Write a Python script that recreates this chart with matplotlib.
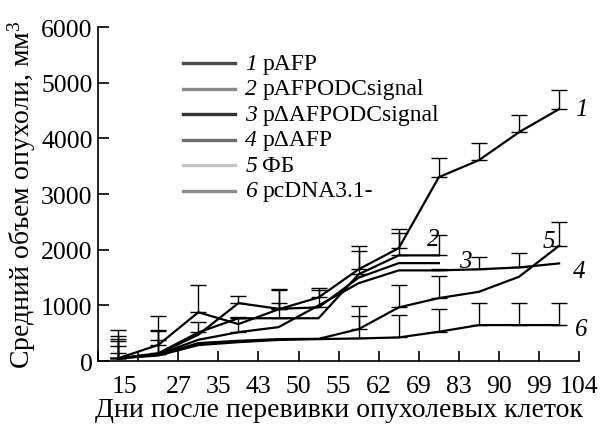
import numpy as np
import matplotlib
matplotlib.use('Agg')
import matplotlib.pyplot as plt

plt.rcParams['font.family'] = ['Liberation Serif', 'DejaVu Serif']
plt.rcParams['mathtext.fontset'] = 'custom'
plt.rcParams['mathtext.rm'] = 'Liberation Serif'
plt.rcParams['mathtext.it'] = 'Liberation Serif:italic'

# days after tumour transplantation (category labels)
days = ['15', '27', '35', '43', '50', '55', '62', '69', '83', '90', '99', '104']
day_pos = [0.67, 2, 3, 4, 5, 6, 7, 8, 9, 10, 11, 12]

nan = np.nan
names = ['pAFP', 'pAFPODCsignal', 'p\u0394AFPODCsignal', 'p\u0394AFP', '\u0424\u0411', 'pcDNA3.1-']
legend_colors = ['#4a4a4a', '#8a8a8a', '#333333', '#6e6e6e', '#c4c4c4', '#8c8c8c']

# mean tumour volume, mm^3
s1 = [50, 290, 877, 665, 930, 1144, 1650, 2030, 3305, 3610, 4113, 4527]
s2 = [50, 140, 515, 770, 770, 770, 1560, 1900, 1900, nan, nan, nan]
s3 = [50, 130, 474, 1042, 940, 965, 1500, 1760, 1760, nan, nan, nan]
s4 = [50, 120, 383, 520, 610, 1000, 1400, 1630, 1630, 1650, 1683, 1755]
s5 = [50, 110, 323, 365, 395, 400, 575, 965, 1132, 1245, 1515, 2072]
s6 = [50, 100, 288, 340, 380, 395, 407, 425, 527, 647, 647, 647]

# upper error (mm^3)
e1 = [513, 526, 497, nan, 360, 161, 422, 344, 342, 306, 307, 343]
e2 = [400, 423, 193, 15, 280, nan, 410, 402, 370, nan, nan, nan]
e3 = [345, 403, nan, 134, 330, 311, nan, nan, nan, nan, nan, nan]
e4 = [304, 263, nan, 255, nan, nan, nan, nan, 25, 224, 257, nan]
e5 = [226, nan, nan, nan, nan, nan, 407, 400, 403, nan, nan, 419]
e6 = [94, nan, nan, nan, nan, nan, 407, 408, 407, 389, 389, 389]

series = [s1, s2, s3, s4, s5, s6]
errors = [e1, e2, e3, e4, e5, e6]

# curve numbers next to the lines
tag_x = [11.9, 8.2, 9.0, 11.85, 11.1, 11.9]
tag_y = [4530, 2195, 1800, 1620, 2160, 575]

x = np.arange(12) + 0.5

fig = plt.figure(figsize=(6.02, 4.27), dpi=100)
ax = fig.add_axes([0.163, 0.152, 0.799, 0.782])

for s, e in zip(series, errors):
    s = np.array(s, dtype=float)
    e = np.array(e, dtype=float)
    ax.plot(x, s, color='black', lw=1.6, zorder=3)
    m = ~np.isnan(e) & ~np.isnan(s)
    ax.errorbar(x[m], s[m], yerr=[np.zeros(m.sum()), e[m]], fmt='none',
                ecolor='black', elinewidth=1.0, capsize=6, capthick=1.0, zorder=2)

for i in range(6):
    ax.text(tag_x[i], tag_y[i], str(i + 1), fontsize=18, style='italic',
            ha='left', va='center')

# legend drawn by hand: grey swatch, italic number, name
for i, (n, c) in enumerate(zip(names, legend_colors)):
    yy = 0.892 - i * 0.0765
    ax.plot([0.177, 0.285], [yy, yy], color=c, lw=2.4, transform=ax.transAxes)
    ax.text(0.306, yy, str(i + 1), style='italic', fontsize=17,
            ha='left', va='center', transform=ax.transAxes)
    ax.text(0.341, yy, n, fontsize=17, ha='left', va='center',
            transform=ax.transAxes)

ax.set_xlim(0, 12)
ax.set_ylim(0, 6000)
ax.set_yticks(np.arange(0, 6001, 1000))
ax.xaxis.remove_overlapping_locs = False
ax.set_xticks(np.arange(13))
ax.set_xticklabels([])
ax.set_xticks(day_pos, minor=True)
ax.set_xticklabels(days, minor=True)
ax.tick_params(axis='x', which='major', direction='in', length=7, width=1.2)
ax.tick_params(axis='x', which='minor', length=0, pad=10, labelsize=18.5)
ax.tick_params(axis='y', direction='in', length=8, width=1.2, labelsize=18.5, pad=4)

for sp in ['top', 'right']:
    ax.spines[sp].set_visible(False)
for sp in ['left', 'bottom']:
    ax.spines[sp].set_linewidth(1.2)

ax.set_xlabel('\u0414\u043d\u0438 \u043f\u043e\u0441\u043b\u0435 \u043f\u0435\u0440\u0435\u0432\u0438\u0432\u043a\u0438 '
              '\u043e\u043f\u0443\u0445\u043e\u043b\u0435\u0432\u044b\u0445 \u043a\u043b\u0435\u0442\u043e\u043a',
              fontsize=20, labelpad=0)
ax.set_ylabel('\u0421\u0440\u0435\u0434\u043d\u0438\u0439 \u043e\u0431\u044a\u0435\u043c '
              '\u043e\u043f\u0443\u0445\u043e\u043b\u0438, \u043c\u043c$^3$', fontsize=20, labelpad=2)

fig.savefig('out.png', dpi=100)
